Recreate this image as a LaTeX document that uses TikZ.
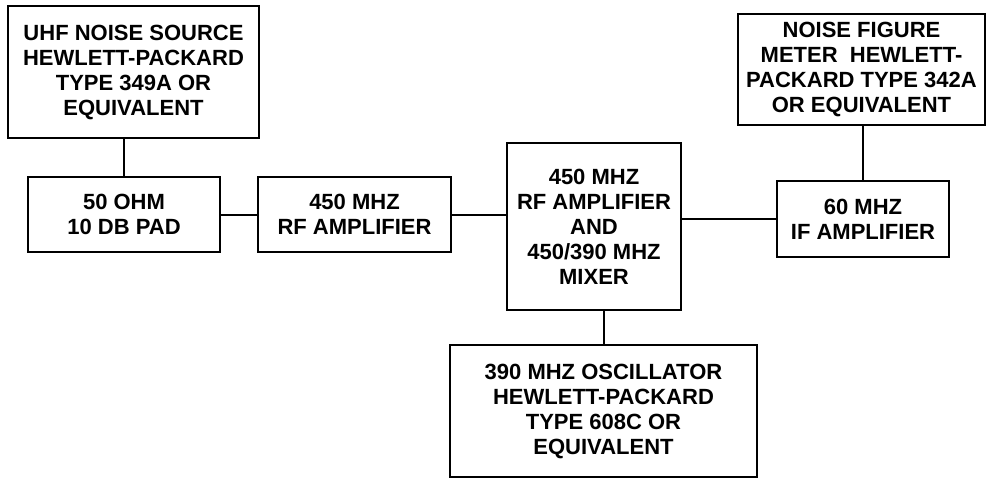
\documentclass[tikz,border=0pt]{standalone}
\usepackage{fontspec}
\setmainfont{Liberation Sans}
\begin{document}
\begin{tikzpicture}[x=1pt, y=-1pt,
  blk/.style={draw, line width=2pt, align=center, inner sep=0pt,
    font=\fontsize{22}{25}\selectfont\bfseries},
  wire/.style={line width=2pt}]
  \useasboundingbox (0,0) rectangle (986,479);

  % Blocks
  \node[blk, minimum width=251pt, minimum height=132pt] (src) at (133.5,72)
    {UHF NOISE SOURCE\\HEWLETT-PACKARD\\TYPE 349A OR\\EQUIVALENT};
  \node[blk, minimum width=192pt, minimum height=75pt] (pad) at (124,214.5)
    {50 OHM\\10 DB PAD};
  \node[blk, minimum width=193pt, minimum height=75pt] (rfamp) at (354.5,214.5)
    {450 MHZ\\RF AMPLIFIER};
  \node[blk, minimum width=174pt, minimum height=167pt] (mixer) at (594,226.5)
    {450 MHZ\\RF AMPLIFIER\\AND\\450/390 MHZ\\MIXER};
  \node[blk, minimum width=307pt, minimum height=132pt] (osc) at (603.5,411)
    {390 MHZ OSCILLATOR\\HEWLETT-PACKARD\\TYPE 608C OR\\EQUIVALENT};
  \node[blk, minimum width=172pt, minimum height=76pt] (ifamp) at (863,219)
    {60 MHZ\\IF AMPLIFIER};
  \node[blk, minimum width=247pt, minimum height=111pt] (nfmeter) at (861.5,69.5)
    {NOISE FIGURE\\METER\ \ HEWLETT-\\PACKARD TYPE 342A\\OR EQUIVALENT};

  % Connections
  \draw[wire] (pad.north) -- (pad.north |- src.south);
  \draw[wire] (pad.east) -- (rfamp.west);
  \draw[wire] (rfamp.east) -- (rfamp.east -| mixer.west);
  \draw[wire] (ifamp.west -| mixer.east) -- (ifamp.west);
  \draw[wire] (osc.north) -- (osc.north |- mixer.south);
  \draw[wire] (ifamp.north) -- (ifamp.north |- nfmeter.south);
\end{tikzpicture}
\end{document}
